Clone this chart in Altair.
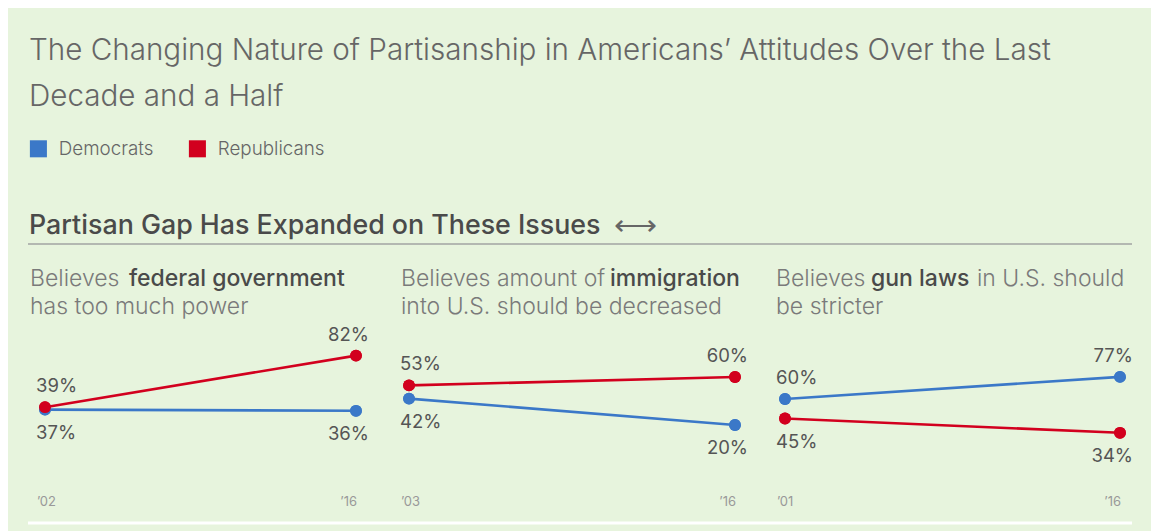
import altair as alt
import pandas as pd

W, H = 1151, 531
FONT = "Inter"

# ---------------- data ----------------
title_lines = [
    "The Changing Nature of Partisanship in Americans\u2019 Attitudes Over the Last",
    "Decade and a Half",
]
parties = ["Democrats", "Republicans"]
party_colors = ["#3b78c8", "#d2001e"]
section_header = "Partisan Gap Has Expanded on These Issues"
section_arrow = "\u27f7"

sub_regular_a = ["Believes ", "Believes amount of ", "Believes "]
sub_bold = ["federal government", "immigration", "gun laws"]
sub_regular_b = ["", "", "in U.S. should"]
sub_line2 = ["has too much power", "into U.S. should be decreased", "be stricter"]

start_years = [2002, 2003, 2001]
end_years = [2016, 2016, 2016]
dem_start = [37, 42, 60]
dem_end = [36, 20, 77]
rep_start = [39, 53, 45]
rep_end = [82, 60, 34]

# ---------------- styling / geometry ----------------
panel_left = [30, 401, 776]
bold_offset = [99, 209, 95]
after_bold_offset = [0, 0, 201]
x_ranges = [[45, 356], [409, 735], [785, 1120]]
y_ranges = [[454, 334], [449, 329], [477, 347]]

ONE = pd.DataFrame({"k": [0]})


def txt(s, x, y, size, color, weight="normal", align="left", font=FONT):
    return alt.Chart(ONE).mark_text(
        align=align, baseline="alphabetic", fontSize=size, color=color,
        fontWeight=weight, font=font
    ).encode(x=alt.value(x), y=alt.value(y), text=alt.value(s))


LEG = alt.Legend(
    orient="none", legendX=29, legendY=139, direction="horizontal", title=None,
    symbolType="square", symbolSize=290, symbolStrokeWidth=0, symbolOpacity=1,
    labelFont=FONT, labelFontSize=18.8, labelFontWeight=300, labelColor="#666",
    labelOffset=11, columnPadding=34, padding=0,
)


def panel(i):
    rows = []
    pairs = [("Democrats", dem_start[i], dem_end[i], rep_start[i], rep_end[i]),
             ("Republicans", rep_start[i], rep_end[i], dem_start[i], dem_end[i])]
    for party, s, e, os_, oe in pairs:
        rows.append(dict(party=party, year=start_years[i], value=s, end="start",
                         pos="above" if s >= os_ else "below", label=f"{s}%"))
        rows.append(dict(party=party, year=end_years[i], value=e, end="end",
                         pos="above" if e >= oe else "below", label=f"{e}%"))
    df = pd.DataFrame(rows)
    xs = alt.Scale(domain=[start_years[i], end_years[i]], range=x_ranges[i])
    ys = alt.Scale(domain=[0, 100], range=y_ranges[i])
    color = alt.Color("party:N", scale=alt.Scale(domain=parties, range=party_colors), legend=LEG)
    base = alt.Chart(df).encode(
        x=alt.X("year:Q", scale=xs, axis=None),
        y=alt.Y("value:Q", scale=ys, axis=None),
    )
    points = base.mark_circle(size=140, opacity=1).encode(color=color)
    lines = base.mark_line(strokeWidth=2.6).encode(color=color, detail="party:N")
    layers = [points, lines, points]
    for end, align, dx in [("start", "left", -9), ("end", "right", 13)]:
        for pos, dy in [("above", -21), ("below", 23)]:
            layers.append(
                base.mark_text(align=align, baseline="middle", dx=dx, dy=dy,
                               fontSize=18.5, color="#555", font=FONT)
                .encode(text="label:N")
                .transform_filter((alt.datum.end == end) & (alt.datum.pos == pos))
            )
    ydf = pd.DataFrame({
        "year": [start_years[i], end_years[i]],
        "lab": [f"\u2019{start_years[i] % 100:02d}", f"\u2019{end_years[i] % 100:02d}"],
        "end": ["start", "end"],
    })
    for end, align, dx in [("start", "left", -8), ("end", "right", 1)]:
        layers.append(
            alt.Chart(ydf).mark_text(align=align, baseline="middle", dx=dx,
                                     fontSize=13, color="#999", font=FONT)
            .encode(x=alt.X("year:Q", scale=xs, axis=None), y=alt.value(502), text="lab:N")
            .transform_filter(alt.datum.end == end)
        )
    return alt.layer(*layers)


bg = alt.Chart(ONE).mark_rect(fill="#e7f4dd").encode(
    x=alt.value(8), x2=alt.value(W), y=alt.value(8), y2=alt.value(H))
gray_rule = alt.Chart(ONE).mark_rule(stroke="#b3b8b1", strokeWidth=2).encode(
    x=alt.value(28), x2=alt.value(1132), y=alt.value(244))
white_rule = alt.Chart(ONE).mark_rule(stroke="#ffffff", strokeWidth=3).encode(
    x=alt.value(28), x2=alt.value(1132), y=alt.value(523))

texts = [
    txt(title_lines[0], 29, 60, 29.6, "#666", weight=300),
    txt(title_lines[1], 29, 106, 29.6, "#666", weight=300),
    txt(section_header, 29, 234, 26.8, "#4a4a4a", weight=500),
    txt(section_arrow, 614, 235, 30, "#666", weight=300, font="DejaVu Sans"),
]
for i in range(3):
    L = panel_left[i]
    texts.append(txt(sub_regular_a[i], L, 286, 23, "#7a7a7a", weight=300))
    texts.append(txt(sub_bold[i], L + bold_offset[i], 286, 23, "#4a4a4a", weight=500))
    if sub_regular_b[i]:
        texts.append(txt(sub_regular_b[i], L + after_bold_offset[i], 286, 23, "#7a7a7a", weight=300))
    texts.append(txt(sub_line2[i], L, 314, 23, "#7a7a7a", weight=300))

chart = alt.layer(
    bg, gray_rule, white_rule, *texts, panel(0), panel(1), panel(2)
).resolve_scale(x="independent", y="independent").properties(
    width=W, height=H, autosize=alt.AutoSizeParams(type="none"), padding=0,
    background="#ffffff",
).configure_view(stroke=None)

chart.save("out.html", embed_options={"renderer": "svg", "actions": False})
